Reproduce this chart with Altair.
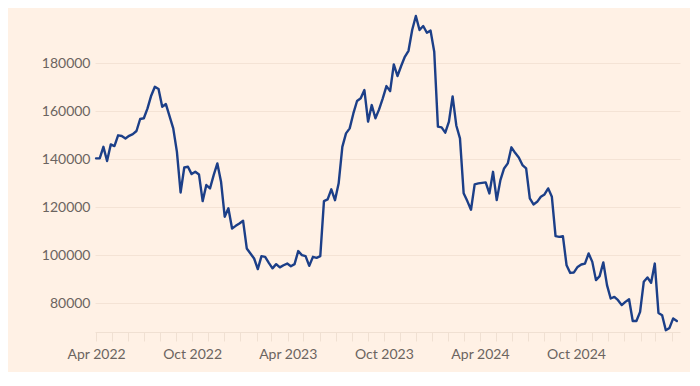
import altair as alt
import pandas as pd

dates = [
    "2022-04-01", "2022-04-08", "2022-04-15", "2022-04-22", "2022-04-29",
    "2022-05-06", "2022-05-13", "2022-05-20", "2022-05-27", "2022-06-03",
    "2022-06-10", "2022-06-17", "2022-06-24", "2022-07-01", "2022-07-08",
    "2022-07-15", "2022-07-22", "2022-07-29", "2022-08-05", "2022-08-12",
    "2022-08-26", "2022-09-02", "2022-09-09", "2022-09-16", "2022-09-23",
    "2022-09-30", "2022-10-07", "2022-10-14", "2022-10-21", "2022-10-28",
    "2022-11-04", "2022-11-11", "2022-11-18", "2022-11-25", "2022-12-02",
    "2022-12-09", "2022-12-16", "2022-12-23", "2022-12-30", "2023-01-06",
    "2023-01-13", "2023-01-20", "2023-01-27", "2023-02-03", "2023-02-10",
    "2023-02-17", "2023-02-24", "2023-03-03", "2023-03-10", "2023-03-17",
    "2023-03-24", "2023-03-31", "2023-04-07", "2023-04-14", "2023-04-21",
    "2023-04-28", "2023-05-05", "2023-05-12", "2023-05-19", "2023-05-26",
    "2023-06-02", "2023-06-09", "2023-06-16", "2023-06-23", "2023-06-30",
    "2023-07-07", "2023-07-14", "2023-07-21", "2023-07-28", "2023-08-04",
    "2023-08-11", "2023-08-18", "2023-08-25", "2023-09-01", "2023-09-08",
    "2023-09-15", "2023-09-22", "2023-09-29", "2023-10-06", "2023-10-13",
    "2023-10-20", "2023-10-27", "2023-11-03", "2023-11-10", "2023-11-17",
    "2023-11-24", "2023-12-01", "2023-12-08", "2023-12-15", "2023-12-22",
    "2023-12-29", "2024-01-05", "2024-01-12", "2024-01-19", "2024-01-26",
    "2024-02-02", "2024-02-09", "2024-02-16", "2024-02-23", "2024-03-01",
    "2024-03-08", "2024-03-15", "2024-03-22", "2024-03-29", "2024-04-12",
    "2024-04-19", "2024-04-26", "2024-05-03", "2024-05-10", "2024-05-17",
    "2024-05-24", "2024-05-31", "2024-06-07", "2024-06-14", "2024-06-21",
    "2024-06-28", "2024-07-05", "2024-07-12", "2024-07-19", "2024-07-26",
    "2024-08-02", "2024-08-09", "2024-08-16", "2024-08-23", "2024-08-30",
    "2024-09-06", "2024-09-13", "2024-09-20", "2024-09-27", "2024-10-04",
    "2024-10-11", "2024-10-18", "2024-10-25", "2024-11-01", "2024-11-08",
    "2024-11-15", "2024-11-22", "2024-11-29", "2024-12-06", "2024-12-13",
    "2024-12-20", "2024-12-27", "2025-01-03", "2025-01-10", "2025-01-17",
    "2025-01-24", "2025-01-31", "2025-02-07", "2025-02-14", "2025-02-21",
    "2025-02-28", "2025-03-07", "2025-03-14", "2025-03-21", "2025-03-28",
    "2025-04-04", "2025-04-11",
]

values = [
    140300, 140300, 145100, 139200, 146100,
    145400, 149900, 149600, 148600, 149700,
    150400, 151700, 156700, 157000, 161100,
    166400, 170100, 169200, 161800, 162900,
    152800, 143000, 126100, 136500, 136800,
    133750, 134700, 133600, 122500, 129200,
    127800, 133300, 138200, 130600, 116000,
    119500, 111100, 112200, 113200, 114300,
    102800, 100700, 98600, 94200, 99600,
    99300, 96800, 94500, 96250, 94900,
    95800, 96500, 95400, 96250, 101700,
    100000, 99600, 95550, 99300, 98900,
    99600, 122500, 123200, 127400, 122900,
    129900, 145100, 150700, 152800, 159000,
    164200, 165300, 168750, 155600, 162500,
    157000, 160700, 165300, 170400, 168300,
    179400, 174600, 178750, 182600, 185100,
    193750, 199600, 193750, 195400, 192600,
    193500, 184700, 153500, 153200, 151000,
    155600, 166100, 154000, 148600, 125800,
    122500, 118900, 129500, 129900, 130300,
    125700, 134700, 122900, 131250, 136100,
    138200, 144900, 142600, 140700, 137500,
    136100, 123600, 121100, 122200, 124300,
    125300, 127800, 124300, 107900, 107600,
    107900, 95800, 92600, 92800, 95100,
    96100, 96500, 100700, 97200, 89600,
    91250, 97000, 87500, 81950, 82600,
    81250, 79200, 80550, 81650, 72600,
    72600, 76400, 88900, 90700, 88500,
    96500, 75950, 75000, 68750, 69700,
    73650, 72600,
]

y_ticks = [80000, 100000, 120000, 140000, 160000, 180000]

df = pd.DataFrame({"date": pd.to_datetime(dates), "value": values})

month_ticks = []
for yr in range(2022, 2026):
    for mo in range(1, 13):
        if (yr == 2022 and mo < 4) or (yr == 2025 and mo > 4):
            continue
        month_ticks.append(alt.DateTime(year=yr, month=mo, date=1))

label_expr = (
    "((month(datum.value) == 3 || month(datum.value) == 9) && year(datum.value) < 2025)"
    " ? timeFormat(datum.value, '%b %Y') : ''"
)

chart = (
    alt.Chart(df)
    .mark_line(color="#1c3f88", strokeWidth=2.4, strokeJoin="round", strokeCap="round")
    .encode(
        x=alt.X(
            "date:T",
            title=None,
            scale=alt.Scale(
                domain=[
                    alt.DateTime(year=2022, month=3, date=30),
                    alt.DateTime(year=2025, month=4, date=17),
                ]
            ),
            axis=alt.Axis(
                values=month_ticks,
                labelExpr=label_expr,
                grid=False,
                domain=True,
                domainColor="#f0e0d2",
                tickColor="#f0e0d2",
                tickSize=9,
                labelPadding=6,
                labelOverlap=False,
                labelFlush=False,
                labelBound=False,
                labelFont="Lato",
                labelFontSize=14,
                labelColor="#6b6460",
            ),
        ),
        y=alt.Y(
            "value:Q",
            title=None,
            scale=alt.Scale(domain=[68000, 200000], nice=False, zero=False),
            axis=alt.Axis(
                values=y_ticks,
                format="d",
                grid=True,
                gridColor="#f4e3d5",
                gridWidth=1,
                domain=False,
                ticks=False,
                labelPadding=5,
                labelFont="Lato",
                labelFontSize=14,
                labelColor="#6b6460",
            ),
        ),
    )
    .properties(
        width=585,
        height=317,
        background="#fff1e5",
        padding={"left": 87, "top": 7, "right": 10, "bottom": 40},
        autosize=alt.AutoSizeParams(type="none"),
    )
    .configure_view(stroke=None)
)

chart.save("out.html", embed_options={"renderer": "svg", "actions": False})
